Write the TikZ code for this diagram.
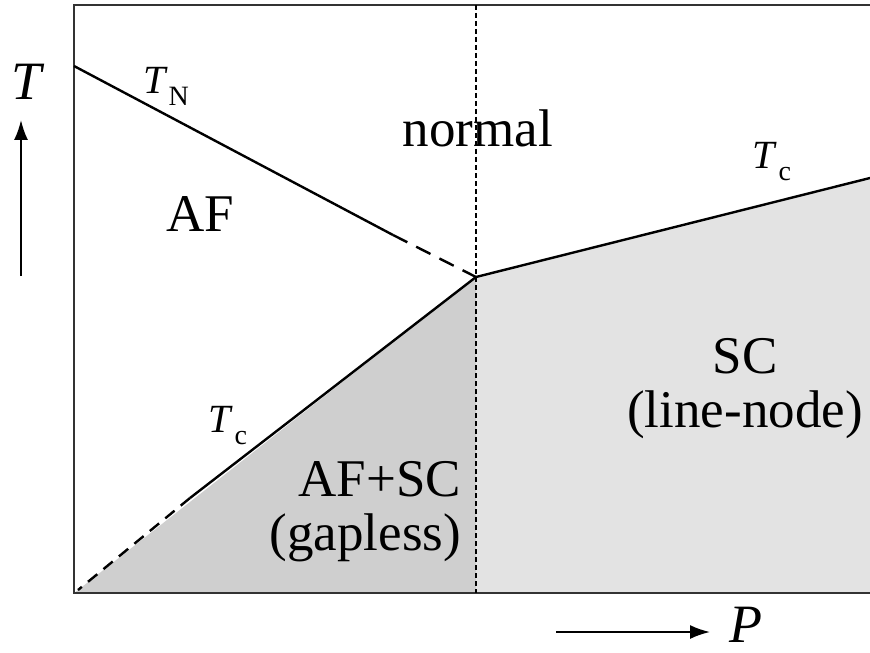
\documentclass[tikz,border=0pt]{standalone}
\usepackage{fontspec}
\setmainfont{Liberation Serif}
\usetikzlibrary{arrows.meta}
\newcommand{\tsub}[1]{\textit{T}\kern0.5pt\raisebox{-6pt}{\fontsize{14}{15}\selectfont #1}}
\tikzset{
  phase/.style={font=\fontsize{26.5}{27}\selectfont, align=center},
  tlabel/.style={font=\fontsize{20}{22}\selectfont},
  axlabel/.style={font=\fontsize{27}{30}\selectfont\itshape},
  bound/.style={line width=1.2pt},
}
\begin{document}
\begin{tikzpicture}[x=0.5pt, y=-0.5pt]
        \useasboundingbox (0,0) rectangle (870,652);
        % corners and phase points
        \coordinate (o) at (74,593);
        \coordinate (tl) at (74,5);
        \coordinate (tr) at (870,5);
        \coordinate (br) at (870,593);
        \coordinate (tn) at (74,66);
        \coordinate (tnd) at (393,235);
        \coordinate (cp) at (476,277);
        \coordinate (cr) at (870,178);
        \coordinate (tcd) at (190,498);
        \coordinate (tco) at (78,590);
        \coordinate (cb) at (476,593);
        \coordinate (ct) at (476,5);
        % shaded regions
        \fill[black!19] (tco) -- (cp) -- (cb) -- (o) -- cycle;
        \fill[black!11] (cp) -- (cr) -- (br) -- (cb) -- cycle;
        % frame
        \draw[line width=1.3pt, black!80] (tr) -- (tl) -- (o) -- (br);
        \draw[line width=0.9pt, dash pattern=on 2.5pt off 1.5pt] (ct) -- (cb);
        % phase boundaries
        \draw[bound] (tn) -- (tnd);
        \draw[bound, dash pattern=on 8pt off 5pt] (tnd) -- (cp);
        \draw[bound] (cp) -- (cr);
        \draw[bound] (cp) -- (tcd);
        \draw[bound, dash pattern=on 6pt off 4pt] (tcd) -- (tco);
        % labels
        \node[tlabel] (tnlab) at (166,86) {\tsub{N}};
        \node[tlabel] (tcr) at (772,162) {\tsub{c}};
        \node[tlabel] (tcl) at (228,426) {\tsub{c}};
        \node[phase] (normal) at (478,128) {normal};
        \node[phase] (af) at (200,214) {AF};
        \node[phase] (sc) at (745,389) {SC\\(line-node)};
        \node[phase, align=right, anchor=east] (afsc) at (468,512) {AF+SC\\(gapless)};
        % axes
        \node[axlabel] (tax) at (27,82) {T};
        \coordinate (tbot) at (21,276);
        \coordinate (ttop) at (21,120);
        \draw[line width=1pt, -{Latex[length=10pt, width=7pt]}] (tbot) -- (ttop);
        \node[axlabel] (pax) at (746,625) {P};
        \coordinate (pleft) at (556,632);
        \coordinate (pright) at (710,632);
        \draw[line width=1pt, -{Latex[length=10pt, width=7pt]}] (pleft) -- (pright);
      \end{tikzpicture}
\end{document}
